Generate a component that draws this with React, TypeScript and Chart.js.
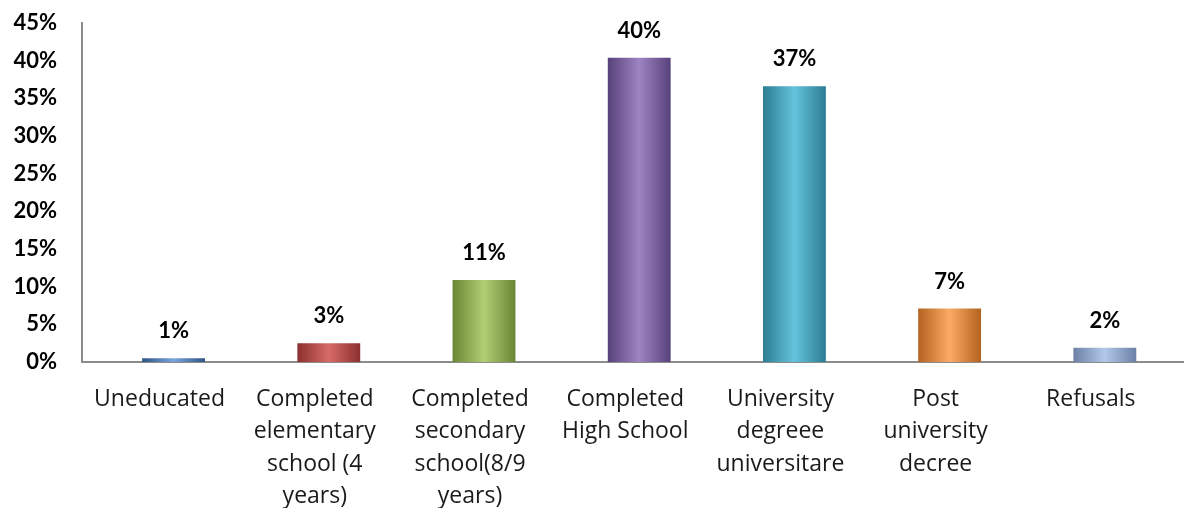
import React, { useEffect, useRef } from "react";
import { Chart, registerables } from "chart.js";

Chart.register(...registerables);

const categories: string[][] = [
  ["Uneducated"],
  ["Completed", "elementary", "school (4", "years)"],
  ["Completed", "secondary", "school(8/9", "years)"],
  ["Completed", "High School"],
  ["University", "degreee", "universitare"],
  ["Post", "university", "decree"],
  ["Refusals"],
];
const values: number[] = [0.5, 2.5, 10.9, 40.4, 36.6, 7.1, 1.9];
const yTicks: number[] = [0, 5, 10, 15, 20, 25, 30, 35, 40, 45];
// [dark edge, light centre] per bar
const barColors: [string, string][] = [
  ["#2f5486", "#7aa6dc"],
  ["#8a302e", "#d86b68"],
  ["#6a8534", "#b2cf74"],
  ["#57427a", "#9f84c2"],
  ["#2b7d92", "#64c3dc"],
  ["#b3621f", "#fbab66"],
  ["#6c80a6", "#b4c8ea"],
];

const FONT = "Lato, 'Open Sans', sans-serif";
const XFONT = "'Open Sans', Lato, sans-serif";

const gradientPlugin = {
  id: "barGradient",
  beforeDatasetsDraw(chart: any) {
    const ctx = chart.ctx;
    const meta = chart.getDatasetMeta(0);
    meta.data.forEach((el: any, i: number) => {
      const w = el.width;
      const g = ctx.createLinearGradient(el.x - w / 2, 0, el.x + w / 2, 0);
      const [dark, light] = barColors[i];
      g.addColorStop(0, dark);
      g.addColorStop(0.5, light);
      g.addColorStop(1, dark);
      el.options.backgroundColor = g;
    });
  },
};

const labelPlugin = {
  id: "valueLabels",
  afterDatasetsDraw(chart: any) {
    const ctx = chart.ctx;
    const meta = chart.getDatasetMeta(0);
    ctx.save();
    ctx.font = `bold 22px ${FONT}`;
    ctx.fillStyle = "#000";
    ctx.textAlign = "center";
    ctx.textBaseline = "middle";
    meta.data.forEach((el: any, i: number) => {
      ctx.fillText(`${Math.round(values[i])}%`, el.x, el.y - 27);
    });
    ctx.restore();
  },
};

export default function App() {
  const ref = useRef<HTMLCanvasElement | null>(null);
  useEffect(() => {
    if (!ref.current) return;
    const chart = new Chart(ref.current, {
      type: "bar",
      data: {
        datasets: [
          {
            data: values.map((v, i) => ({ x: i, y: v })),
            backgroundColor: barColors.map((c) => c[1]),
            borderWidth: 0,
            barPercentage: 0.9,
            categoryPercentage: 0.45,
          },
        ],
      },
      options: {
        animation: false,
        responsive: false,
        layout: { padding: { top: 23, right: 0, left: 0, bottom: 0 } },
        plugins: {
          legend: { display: false },
          tooltip: { enabled: false },
        },
        scales: {
          x: {
            type: "linear",
            offset: false,
            min: -0.59,
            max: 6.51,
            grid: { display: false, drawTicks: false, offset: false },
            border: { display: true, color: "#8c8c8c", width: 2 },
            afterBuildTicks: (s: any) => {
              s.ticks = categories.map((_, i) => ({ value: i }));
            },
            afterFit: (s: any) => {
              s.height = 146;
              s.paddingLeft = 0;
              s.paddingRight = 0;
            },
            ticks: {
              autoSkip: false,
              maxRotation: 0,
              minRotation: 0,
              padding: 21,
              labelOffset: -14,
              color: "#1a1a1a",
              font: { family: XFONT, size: 23, lineHeight: 1.413 },
              callback: (v: any) => categories[v as number] ?? "",
            },
          },
          y: {
            min: 0,
            max: 45,
            grid: { display: false, drawTicks: false },
            border: { display: true, color: "#8c8c8c", width: 2 },
            afterBuildTicks: (s: any) => {
              s.ticks = yTicks.map((v) => ({ value: v }));
            },
            afterFit: (s: any) => {
              s.width = 82;
              s.paddingTop = 0;
              s.paddingBottom = 0;
            },
            ticks: {
              padding: 25,
              color: "#000",
              font: { family: FONT, size: 22, weight: "bold" },
              callback: (v: any) => `${v}%`,
            },
          },
        },
      },
      plugins: [gradientPlugin, labelPlugin],
    });
    return () => chart.destroy();
  }, []);
  return (
    <div style={{ position: "absolute", left: 0, top: 0, width: 1184, height: 508, background: "#fff" }}>
      <canvas ref={ref} width={1184} height={508} />
    </div>
  );
}
